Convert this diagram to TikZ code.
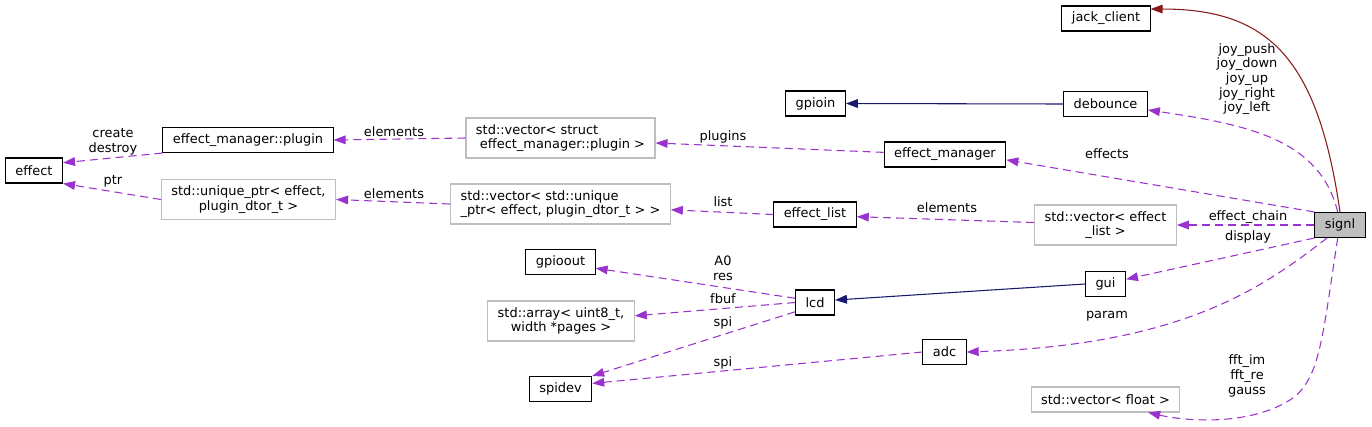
\documentclass[tikz,border=0pt]{standalone}
\usepackage{fontspec}
\setmainfont{DejaVu Sans}
\usetikzlibrary{arrows.meta}
\definecolor{depline}{RGB}{154,50,205}
\definecolor{inhline}{RGB}{25,25,112}
\definecolor{useline}{RGB}{139,26,26}
\definecolor{tplline}{RGB}{191,191,191}
\definecolor{mainfill}{RGB}{191,191,191}

\begin{document}
\begin{tikzpicture}[
  x=0.75pt, y=-0.75pt,
  every node/.style={
    font=\fontsize{9.7}{11}\selectfont,
    inner xsep=7.5pt, inner ysep=2pt
  },
  cls/.style={draw=black, line width=0.8pt, minimum height=18.75pt},
  tpl/.style={draw=tplline, line width=0.8pt, minimum height=30pt, align=center},
  lbl/.style={inner sep=0pt, align=center},
  dep/.style={draw=depline, line width=0.8pt, dash pattern=on 6pt off 3.75pt,
    -{Triangle[length=9pt,width=6.5pt]}},
  inh/.style={draw=inhline, line width=0.8pt,
    -{Triangle[length=9pt,width=6.5pt]}},
  usg/.style={draw=useline, line width=0.8pt,
    -{Triangle[length=9pt,width=6.5pt]}},
]
\useasboundingbox (0,0) rectangle (1372,426);

% ---- Nodes ----
\node[cls] (effect)    at (34,170.5)    {effect};
\node[cls] (emplugin)  at (248,140)     {effect\_manager::plugin};
\node[tpl] (uptr)      at (248.5,199.5) {std::unique\_ptr< effect,\\plugin\_dtor\_t >};

\node[tpl, align=left] (vecplugin) at (560.5,138) {std::vector< struct\\\hspace*{3pt}effect\_manager::plugin >};
\node[tpl, align=left] (vecuptr)   at (560.5,204) {std::vector< std::unique\\\_ptr< effect, plugin\_dtor\_t > >};
\node[cls] (gpioout)   at (560.5,262)   {gpioout};
\node[tpl] (array)     at (561,321)     {std::array< uint8\_t,\\width *pages >};
\node[cls] (spidev)    at (560.5,389)   {spidev};

\node[cls] (gpioin)    at (815.5,103.5) {gpioin};
\node[cls] (efflist)   at (815,214.5)   {effect\_list};
\node[cls] (lcd)       at (815,302.5)   {lcd};

\node[cls] (effmgr)    at (945,154.5)   {effect\_manager};
\node[cls] (adc)       at (944.5,352)   {adc};

\node[cls] (jack)      at (1106,18.5)   {jack\_client};
\node[cls] (debounce)  at (1105.5,104)  {debounce};
\node[tpl] (veclist)   at (1105.5,225)  {std::vector< effect\\\_list >};
\node[cls] (gui)       at (1105.5,284)  {gui};
\node[tpl, minimum height=18.75pt] (vecfloat) at (1105.5,399.5) {std::vector< float >};

\node[cls, fill=mainfill] (signl) at (1340,225) {signl};

% ---- Edge labels ----
\node[lbl] (lCrDe)    at (113,141.5)  {create\\destroy};
\node[lbl] (lPtr)     at (113,181)    {ptr};
\node[lbl] (lElemA)   at (394,132)    {elements};
\node[lbl] (lElemB)   at (394,194)    {elements};
\node[lbl] (lPlugins) at (723,137)    {plugins};
\node[lbl] (lList)    at (723,202)    {list};
\node[lbl] (lElemC)   at (947,208)    {elements};
\node[lbl] (lEffects) at (1107,154)   {effects};
\node[lbl] (lJoy)     at (1247,79)    {joy\_push\\joy\_down\\joy\_up\\joy\_right\\joy\_left};
\node[lbl] (lChain)   at (1248,217)   {effect\_chain};
\node[lbl] (lDisplay) at (1248,237)   {display};
\node[lbl] (lParam)   at (1107,316)   {param};
\node[lbl] (lFft)     at (1247,376)   {fft\_im\\fft\_re\\gauss};
\node[lbl] (lA0)      at (723,268)    {A0\\res};
\node[lbl] (lFbuf)    at (723,299)    {fbuf};
\node[lbl] (lSpiA)    at (723,323)    {spi};
\node[lbl] (lSpiB)    at (723,363)    {spi};

% ---- Edges ----
\draw[inh] (debounce.west) -- (gpioin.east);
\draw[inh] (gui.west) -- (lcd.7);
\draw[usg] (signl.north) .. controls (1318,60) and (1270,9) .. (jack.12);

\foreach \s/\t in {signl.north west/effmgr.-5, signl.west/veclist.east,
                   signl.south west/gui.13, effmgr.178/vecplugin.-3,
                   vecplugin.west/emplugin.east, emplugin.south west/effect.15,
                   uptr.west/effect.south east, vecuptr.west/uptr.east,
                   efflist.west/vecuptr.-3, veclist.178/efflist.-3,
                   lcd.168/gpioout.-10, lcd.west/array.4,
                   lcd.205/spidev.north east, adc.west/spidev.10}
  \draw[dep] (\s) -- (\t);

\draw[dep] (signl.100) .. controls (1320,140) and (1250,125) .. (debounce.-8);
\draw[dep] (signl.-135) .. controls (1260,290) and (1180,345) .. (adc.east);
\draw[dep] (signl.-100) .. controls (1322,340) and (1320,380) .. (1290,400)
  .. controls (1250,425) and (1190,422) .. (vecfloat.-17);

\end{tikzpicture}
\end{document}
